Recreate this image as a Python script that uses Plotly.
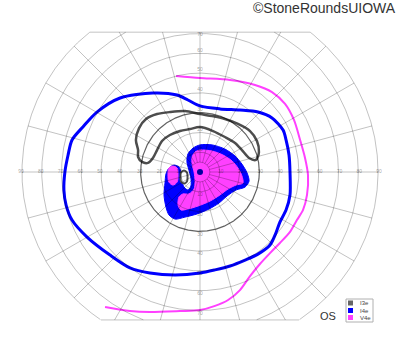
import numpy as np
import plotly.graph_objects as go

# ---------------- data (degrees of visual field) ----------------
# V4e outer isopter (open arc)
v4e_outer_x = [-12.1, 0.0, 15.2, 27.8, 36.4, 43.0, 47.5, 50.6, 53.1, 54.6, 54.1, 52.1, 49.0, 45.5,
               40.4, 35.4, 30.3, 25.3, 20.2, 14.2, 7.6, 0.0, -10.1, -25.3, -35.4, -48.0]
v4e_outer_y = [48.5, 47.5, 46.5, 44.0, 40.4, 34.4, 26.3, 16.2, 7.1, -1.5, -11.6, -19.2, -24.3, -30.3,
               -35.9, -41.0, -46.5, -52.6, -59.7, -64.7, -67.7, -69.8, -70.3, -70.8, -70.3, -68.3]

# V4e central area (filled)
v4e_center_x = [0.0, 6.1, 11.6, 16.2, 19.2, 21.2, 21.7, 18.2, 14.2, 10.1, 5.1, -1.0, -6.1, -9.6,
                -11.1, -10.6, -8.6, -5.6, -3.0, -2.5, -3.0, -4.0, -4.0, -2.5, 0.0]
v4e_center_y = [11.1, 10.6, 8.6, 5.6, 2.0, -2.0, -5.6, -6.6, -8.6, -11.6, -14.7, -17.2, -18.7, -19.2,
                -16.7, -12.6, -11.1, -11.1, -8.6, -4.6, 0.0, 4.0, 7.6, 10.1, 11.1]
v4e_lobe_x = [-13.7, -11.6, -11.1, -11.6, -13.7, -15.7, -16.2, -15.7, -13.7]
v4e_lobe_y = [3.0, 2.0, -1.5, -5.1, -6.6, -5.1, -1.5, 2.0, 3.0]

# I4e outer isopter (closed)
i4e_outer_x = [-11.6, -6.1, 0.0, 10.1, 20.2, 29.3, 36.4, 42.0, 43.5, 45.0, 45.5, 45.5, 43.5, 40.4,
               38.4, 35.4, 29.3, 22.8, 15.2, 7.6, 0.0, -12.6, -25.3, -35.4, -45.5, -57.1, -64.7,
               -67.7, -68.8, -68.3, -66.7, -64.7, -59.2, -52.1, -40.4, -23.8, -11.6]
i4e_outer_y = [38.9, 36.4, 33.4, 31.9, 31.3, 30.3, 27.3, 21.2, 16.2, 8.6, 0.0, -11.6, -19.2, -25.3,
               -30.8, -36.9, -41.5, -44.5, -47.5, -49.5, -51.1, -52.1, -51.1, -48.5, -42.0, -32.9,
               -24.3, -16.7, -9.1, 0.0, 8.6, 16.2, 22.8, 30.3, 37.4, 39.9, 38.9]

# I4e central area (filled)
i4e_center_x = [0.0, 6.1, 12.6, 17.7, 21.2, 23.8, 24.8, 22.8, 18.2, 13.7, 9.6, 4.6, -1.5, -7.6,
                -12.6, -15.7, -17.2, -18.2, -17.7, -17.2, -15.7, -13.1, -10.6, -9.6, -9.1, -8.1,
                -6.1, -4.6, -4.6, -5.6, -6.6, -6.1, -3.5, 0.0]
i4e_center_y = [13.7, 13.7, 11.6, 8.1, 4.0, -0.5, -4.6, -7.6, -9.1, -12.1, -15.7, -18.7, -21.2, -22.8,
                -23.8, -21.7, -17.7, -11.6, -5.6, -1.0, 2.0, 3.5, 2.5, -0.5, -4.6, -7.6,
                -9.1, -7.1, -3.0, 1.0, 5.1, 9.1, 12.1, 13.7]

# I3e isopters (closed)
i3e_arc_x = [-31.3, -32.4, -30.8, -27.3, -21.7, -15.2, -7.6, 0.0, 6.1, 12.6, 19.2, 25.3, 28.8,
             29.8, 28.3, 24.8, 21.2, 17.7, 12.6, 6.6, 0.0, -5.1, -10.1, -15.2, -19.2, -21.7,
             -23.8, -26.3, -29.3, -31.3, -31.3]
i3e_arc_y = [11.1, 16.2, 22.2, 26.8, 29.3, 30.3, 30.8, 29.3, 28.3, 26.8, 24.3, 20.7, 15.7,
             10.1, 6.1, 7.1, 11.1, 14.7, 17.7, 20.7, 22.7, 21.7, 20.7, 18.7, 15.7, 11.1,
             7.1, 4.6, 5.1, 7.6, 11.1]
i3e_loop_x = [-8.1, -6.6, -6.3, -6.6, -8.1, -9.6, -9.9, -9.6, -8.1]
i3e_loop_y = [0.8, -0.3, -2.5, -4.8, -5.8, -4.8, -2.5, -0.3, 0.8]

# grid / tick labels
ring_degrees = [5, 10, 20, 30, 40, 50, 60, 70, 80, 90]
meridian_degrees = list(range(0, 360, 15))
h_tick_labels = [10, 20, 30, 40, 50, 60, 70, 80, 90]
v_tick_labels = [10, 20, 30, 40, 50, 60, 70]
legend_labels = ["I3e", "I4e", "V4e"]

GRAY = "#4d4d4d"
BLUE = "#0000ff"
MAG = "#ff40ff"
GRID = "rgba(0,0,0,0.24)"
Y_TOP = 70.7
Y_BOT = -74.8
R_MAX = 90

fig = go.Figure()

# filled central areas
fig.add_trace(go.Scatter(x=i4e_center_x, y=i4e_center_y, mode="lines", fill="toself",
                         fillcolor=BLUE, line=dict(color=BLUE, width=1, shape="spline", smoothing=0.8),
                         hoverinfo="skip"))
fig.add_trace(go.Scatter(x=v4e_center_x, y=v4e_center_y, mode="lines", fill="toself",
                         fillcolor=MAG, line=dict(color=MAG, width=1, shape="spline", smoothing=0.8),
                         hoverinfo="skip"))
fig.add_trace(go.Scatter(x=v4e_lobe_x, y=v4e_lobe_y, mode="lines", fill="toself",
                         fillcolor=MAG, line=dict(color=MAG, width=1, shape="spline"),
                         hoverinfo="skip"))
fig.add_trace(go.Scatter(x=i3e_loop_x, y=i3e_loop_y, mode="lines", fill="toself",
                         fillcolor="white", line=dict(color=GRAY, width=2, shape="spline"),
                         hoverinfo="skip"))
# isopter lines
fig.add_trace(go.Scatter(x=i3e_arc_x, y=i3e_arc_y, mode="lines",
                         line=dict(color=GRAY, width=2.5, shape="spline", smoothing=0.8),
                         hoverinfo="skip"))
fig.add_trace(go.Scatter(x=i4e_outer_x, y=i4e_outer_y, mode="lines",
                         line=dict(color=BLUE, width=3, shape="spline", smoothing=0.8),
                         hoverinfo="skip"))
fig.add_trace(go.Scatter(x=v4e_outer_x, y=v4e_outer_y, mode="lines",
                         line=dict(color=MAG, width=2, shape="spline", smoothing=0.8),
                         hoverinfo="skip"))

# grid rings (clipped top and bottom)
def ring(r):
    xs, ys = [], []
    for a in np.arange(0, 360.01, 0.25):
        t = np.radians(a)
        x, y = r * np.cos(t), r * np.sin(t)
        if Y_BOT <= y <= Y_TOP:
            xs.append(x); ys.append(y)
        elif xs and xs[-1] is not None:
            xs.append(None); ys.append(None)
    xs.append(None); ys.append(None)
    return xs, ys

gx, gy = [], []
for r in ring_degrees:
    if r == 30:
        continue
    a, b = ring(r)
    gx += a; gy += b
for m in meridian_degrees:
    t = np.radians(m)
    s = np.sin(t)
    r_end = R_MAX
    if s > 1e-9:
        r_end = min(r_end, Y_TOP / s)
    elif s < -1e-9:
        r_end = min(r_end, Y_BOT / s)
    gx += [5 * np.cos(t), r_end * np.cos(t), None]
    gy += [5 * np.sin(t), r_end * np.sin(t), None]
for yl in (Y_TOP, Y_BOT):
    xe = np.sqrt(R_MAX ** 2 - yl ** 2)
    gx += [-xe, xe, None]
    gy += [yl, yl, None]
fig.add_trace(go.Scatter(x=gx, y=gy, mode="lines", line=dict(color=GRID, width=1),
                         hoverinfo="skip"))
a, b = ring(30)
fig.add_trace(go.Scatter(x=a, y=b, mode="lines", line=dict(color="rgba(0,0,0,0.62)", width=1.2),
                         hoverinfo="skip"))

# fixation point
fig.add_trace(go.Scatter(x=[0], y=[0], mode="markers",
                         marker=dict(color="#0000a0", size=6), hoverinfo="skip"))

# axis tick labels
tx, ty, tt = [], [], []
for r in h_tick_labels:
    tx += [-r - 0.5, r + 0.5]; ty += [0, 0]; tt += [str(r), str(r)]
for r in v_tick_labels:
    tx += [0, 0]; ty += [min(r + 1.5, Y_TOP - 1.2), -(r + 1.5)]; tt += [str(r), str(r)]
fig.add_trace(go.Scatter(x=tx, y=ty, mode="text", text=tt,
                         textfont=dict(size=5, color="rgba(0,0,0,0.4)", family="Liberation Sans"),
                         hoverinfo="skip"))

W, H = 400, 352
S = 1.978  # px per degree
fig.update_layout(
    width=W, height=H, margin=dict(l=0, r=0, t=0, b=0),
    paper_bgcolor="white", plot_bgcolor="white", showlegend=False,
    xaxis=dict(range=[-200 / S, 200 / S], visible=False, fixedrange=True),
    yaxis=dict(range=[-(H - 172) / S, 172 / S], visible=False, fixedrange=True),
)

def px(x, y):
    return x / W, 1 - y / H

shapes = []
x0, y0 = px(346, 299); x1, y1 = px(373, 322)
shapes.append(dict(type="rect", xref="paper", yref="paper", x0=x0, y0=y0, x1=x1, y1=y1,
                   line=dict(color="#b0b0b0", width=1), fillcolor="white"))
annots = []
for lab, col, yc in zip(legend_labels, ["#666666", BLUE, MAG], [303, 310.5, 317.5]):
    a0, b0 = px(348, yc - 2.5); a1, b1 = px(353, yc + 2.5)
    shapes.append(dict(type="rect", xref="paper", yref="paper", x0=a0, y0=b0, x1=a1, y1=b1,
                       line=dict(width=0), fillcolor=col))
    lx, ly = px(358, yc)
    annots.append(dict(x=lx, y=ly, xref="paper", yref="paper", text=lab, showarrow=False,
                       xanchor="left", yanchor="middle",
                       font=dict(size=6, color="#444", family="Liberation Sans")))
ox, oy = px(328, 316)
annots.append(dict(x=ox, y=oy, xref="paper", yref="paper", text="OS", showarrow=False,
                   xanchor="center", yanchor="middle",
                   font=dict(size=11, color="#333", family="Liberation Sans")))
cx, cy = px(398, 7.5)
annots.append(dict(x=cx, y=cy, xref="paper", yref="paper", text="©StoneRoundsUIOWA",
                   showarrow=False, xanchor="right", yanchor="middle",
                   font=dict(size=14, color="#333", family="Liberation Sans")))
fig.update_layout(shapes=shapes, annotations=annots)

fig.write_html("out.html")
